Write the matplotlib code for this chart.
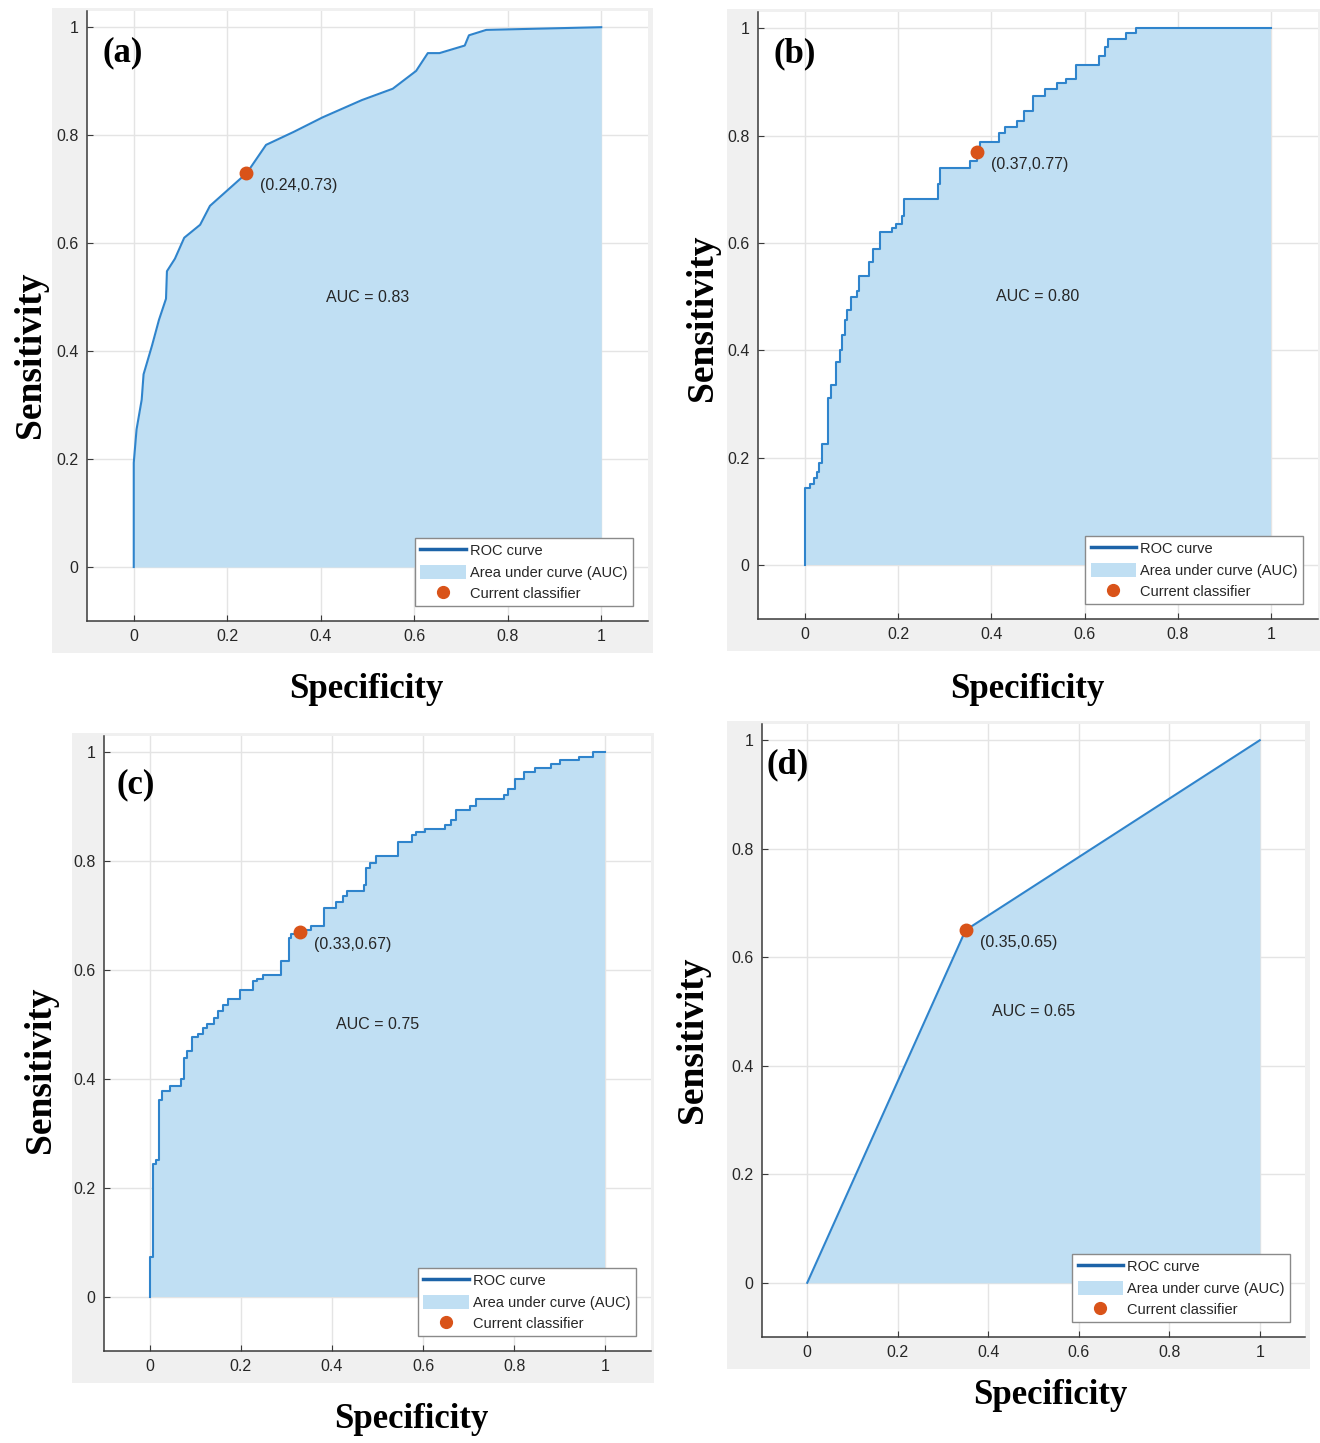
import numpy as np
import matplotlib
matplotlib.use('Agg')
import matplotlib.pyplot as plt
from matplotlib.lines import Line2D
from matplotlib.patches import Patch, Rectangle

W, H = 1320, 1443

# ROC data (false positive rate, true positive rate)
fpr_a = [0, 0, 0.006, 0.017, 0.021, 0.039, 0.054, 0.069, 0.071, 0.088, 0.108, 0.142,
         0.163, 0.242, 0.283, 0.342, 0.404, 0.488, 0.554, 0.604, 0.629, 0.654, 0.708,
         0.717, 0.754, 1.0]
tpr_a = [0, 0.193, 0.255, 0.31, 0.357, 0.41, 0.458, 0.497, 0.548, 0.571, 0.61, 0.634,
         0.669, 0.73, 0.782, 0.806, 0.833, 0.865, 0.886, 0.919, 0.952, 0.952, 0.966,
         0.985, 0.995, 1.0]

fpr_b = [0, 0, 0.011, 0.019, 0.027, 0.031, 0.038, 0.049, 0.057, 0.068, 0.076, 0.079,
         0.087, 0.090, 0.099, 0.112, 0.117, 0.138, 0.146, 0.161, 0.187, 0.195, 0.208,
         0.212, 0.286, 0.29, 0.355, 0.369, 0.376, 0.417, 0.429, 0.454, 0.47, 0.489,
         0.516, 0.54, 0.561, 0.581, 0.631, 0.643, 0.651, 0.688, 0.709, 1.0]
tpr_b = [0, 0.143, 0.152, 0.163, 0.174, 0.19, 0.225, 0.311, 0.335, 0.378, 0.401, 0.428,
         0.456, 0.475, 0.499, 0.511, 0.538, 0.565, 0.589, 0.62, 0.628, 0.636, 0.65,
         0.681, 0.71, 0.739, 0.753, 0.766, 0.788, 0.804, 0.815, 0.827, 0.845, 0.874,
         0.886, 0.898, 0.906, 0.931, 0.948, 0.964, 0.98, 0.991, 1.0, 1.0]

fpr_c = [0, 0, 0.007, 0.014, 0.021, 0.028, 0.045, 0.07, 0.076, 0.082, 0.093, 0.107,
         0.118, 0.126, 0.141, 0.149, 0.162, 0.173, 0.198, 0.227, 0.236, 0.248, 0.289,
         0.306, 0.311, 0.328, 0.354, 0.383, 0.408, 0.425, 0.434, 0.471, 0.475, 0.484,
         0.497, 0.545, 0.576, 0.585, 0.604, 0.648, 0.661, 0.673, 0.703, 0.716, 0.778,
         0.787, 0.802, 0.822, 0.846, 0.88, 0.901, 0.943, 0.972, 1.0]
tpr_c = [0, 0.072, 0.243, 0.251, 0.362, 0.378, 0.386, 0.4, 0.439, 0.451, 0.477, 0.482,
         0.493, 0.5, 0.511, 0.525, 0.535, 0.547, 0.563, 0.579, 0.584, 0.59, 0.616,
         0.659, 0.667, 0.673, 0.681, 0.714, 0.725, 0.736, 0.745, 0.757, 0.788, 0.796,
         0.809, 0.835, 0.849, 0.853, 0.859, 0.867, 0.875, 0.894, 0.902, 0.915, 0.922,
         0.932, 0.951, 0.963, 0.971, 0.979, 0.986, 0.992, 1.0, 1.0]

fpr_d = [0, 0.35, 1.0]
tpr_d = [0, 0.65, 1.0]

points = [(0.24, 0.73), (0.37, 0.77), (0.33, 0.67), (0.35, 0.65)]
auc_values = [0.83, 0.80, 0.75, 0.65]
letters = ['(a)', '(b)', '(c)', '(d)']
ticks = [0, 0.2, 0.4, 0.6, 0.8, 1]
tick_labels = ['0', '0.2', '0.4', '0.6', '0.8', '1']

# layout in pixels: axes box (left, top, right, bottom), grey frame, label centres
axes_px = [(87, 11, 648, 621), (758, 12, 1318, 619),
           (104, 736, 651, 1351), (762, 724, 1305, 1337)]
frame_px = [(52, 8, 653, 653), (727, 9, 1320, 651),
            (72, 733, 654, 1383), (727, 721, 1310, 1369)]
sens_px = [(30, 355), (702, 318), (40, 1070), (693, 1040)]
spec_px = [(366, 690), (1027, 690), (411, 1420), (1050, 1395)]
letter_pos = [(-0.066, 0.952), (-0.066, 0.952), (-0.072, 0.94), (-0.09, 0.955)]
steps = [False, True, True, False]

line_col = '#2f84cc'
fill_col = '#c0dff3'
dot_col = '#d95319'
txt_col = '#262626'

fig = plt.figure(figsize=(W / 100, H / 100), dpi=100)
fig.patch.set_facecolor('white')

curves = [(fpr_a, tpr_a), (fpr_b, tpr_b), (fpr_c, tpr_c), (fpr_d, tpr_d)]

for i, (fpr, tpr) in enumerate(curves):
    # grey background frame behind each panel
    fl, ft, fr, fb = frame_px[i]
    bg = fig.add_axes([fl / W, 1 - fb / H, (fr - fl) / W, (fb - ft) / H], zorder=0)
    bg.set_facecolor('#f0f0f0')
    bg.set_xticks([])
    bg.set_yticks([])
    for s in bg.spines.values():
        s.set_visible(False)

    l, t, r, b = axes_px[i]
    ax = fig.add_axes([l / W, 1 - b / H, (r - l) / W, (b - t) / H], zorder=2)
    ax.set_facecolor('white')
    ax.set_xlim(-0.1, 1.1)
    ax.set_ylim(-0.1, 1.03)
    ax.set_axisbelow(True)
    ax.grid(True, color='#e4e4e4', linewidth=1)
    ax.set_xticks(ticks)
    ax.set_xticklabels(tick_labels)
    ax.set_yticks(ticks)
    ax.set_yticklabels(tick_labels)
    for s in ['top', 'right']:
        ax.spines[s].set_visible(False)
    for s in ['left', 'bottom']:
        ax.spines[s].set_color('#3a3a3a')
        ax.spines[s].set_linewidth(1.1)
    ax.tick_params(direction='in', length=4, colors='#3a3a3a', labelsize=11.5,
                   labelcolor=txt_col, pad=6)
    for lab in ax.get_xticklabels() + ax.get_yticklabels():
        lab.set_family('Liberation Sans')

    if steps[i]:
        ax.fill_between(fpr, tpr, 0, step='post', color=fill_col, linewidth=0)
        ax.plot(fpr, tpr, drawstyle='steps-post', color=line_col, lw=1.5)
    else:
        ax.fill_between(fpr, tpr, 0, color=fill_col, linewidth=0)
        ax.plot(fpr, tpr, color=line_col, lw=1.5)

    px, py = points[i]
    ax.plot(px, py, 'o', color=dot_col, markersize=9, zorder=5)
    ax.annotate(f'({px:.2f},{py:.2f})', (px, py), xytext=(10, -9),
                textcoords='offset points', va='center', ha='left',
                fontsize=11.5, family='Liberation Sans', color=txt_col)
    ax.text(0.5, 0.5, f'AUC = {auc_values[i]:.2f}', ha='center', va='center',
            fontsize=11.5, family='Liberation Sans', color=txt_col)
    lx, ly = letter_pos[i]
    ax.text(lx, ly, letters[i], ha='left', va='center', fontsize=25,
            family='Liberation Serif', weight='bold', color='black')

    handles = [Line2D([0], [0], color='#1c63a8', lw=2.5),
               Patch(facecolor=fill_col, edgecolor='none'),
               Line2D([0], [0], marker='o', color=dot_col, linestyle='none', markersize=8.5)]
    leg = ax.legend(handles, ['ROC curve', 'Area under curve (AUC)', 'Current classifier'],
                    loc='lower right', prop={'family': 'Liberation Sans', 'size': 10.5},
                    fancybox=False, framealpha=1, edgecolor='#8a8a8a', handlelength=3.1,
                    handleheight=1.1, labelspacing=0.42, borderaxespad=1.0,
                    handletextpad=0.3, borderpad=0.4)
    leg.get_frame().set_linewidth(1.0)
    for txt in leg.get_texts():
        txt.set_color(txt_col)

    sx, sy = sens_px[i]
    fig.text(sx / W, 1 - sy / H, 'Sensitivity', rotation=90, ha='center', va='center',
             fontsize=27, family='Liberation Serif', weight='bold')
    cx, cy = spec_px[i]
    fig.text(cx / W, 1 - cy / H, 'Specificity', ha='center', va='center',
             fontsize=25, family='Liberation Serif', weight='bold')

fig.savefig('out.png', dpi=100, facecolor='white')
